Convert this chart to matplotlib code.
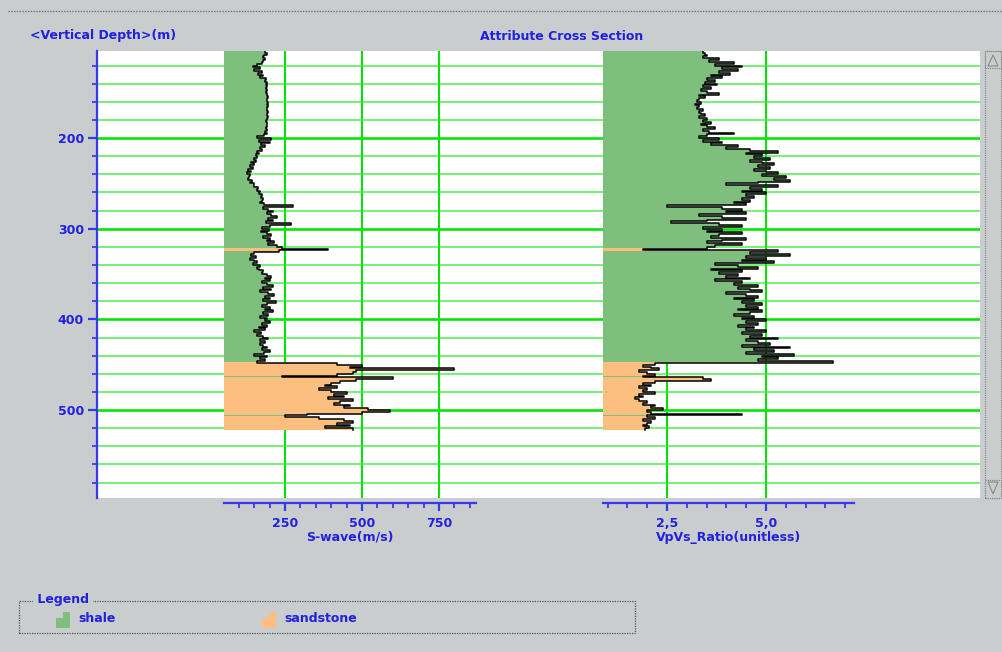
import numpy as np
import matplotlib
matplotlib.use('Agg')
import matplotlib.pyplot as plt
from matplotlib.patches import Rectangle, Polygon
from matplotlib.lines import Line2D

W, H = 1002, 652

# depth samples (top of each 2 m sample), metres
STEP = 2
depth = np.arange(104, 522, STEP)

# S-wave velocity (m/s), one value per sample, 10 per row (20 m)
swave = [185, 190, 182, 178, 186, 180, 175, 160, 145, 170,
         150, 175, 162, 180, 170, 188, 185, 190, 187, 191,
         189, 192, 188, 193, 190, 194, 191, 193, 195, 192,
         194, 191, 193, 196, 192, 190, 194, 191, 189, 193,
         190, 192, 188, 191, 186, 190, 182, 160, 205, 165,
         200, 172, 185, 168, 175, 160, 165, 155, 160, 148,
         155, 140, 150, 135, 145, 130, 140, 128, 138, 133,
         130, 142, 138, 150, 148, 162, 158, 170, 165, 175,
         172, 180, 176, 170, 182, 275, 180, 195, 210, 190,
         205, 225, 195, 210, 188, 270, 200, 175, 198, 172,
         190, 205, 180, 200, 192, 215, 195, 225, 240, 390,
         230, 150, 140, 155, 135, 148, 160, 145, 170, 158,
         165, 180, 175, 192, 205, 185, 200, 175, 190, 210,
         180, 205, 170, 195, 215, 185, 200, 178, 220, 190,
         175, 200, 185, 210, 180, 195, 170, 190, 185, 200,
         175, 190, 165, 185, 150, 172, 160, 180, 195, 168,
         185, 170, 180, 190, 175, 200, 182, 150, 190, 170,
         185, 160, 420, 500, 460, 800, 480, 470, 420, 240,
         600, 480, 430, 400, 380, 420, 360, 400, 450, 410,
         440, 390, 470, 430, 410, 460, 440, 520, 590, 500,
         320, 250, 360, 440, 470, 420, 460, 380, 470]

# Vp/Vs ratio, one value per sample
vpvs = [3.4, 3.45, 3.5, 3.4, 3.8, 3.55, 4.2, 3.7, 4.4, 3.9,
        4.3, 3.8, 4.1, 3.6, 3.9, 3.5, 3.7, 3.45, 3.75, 3.4,
        3.6, 3.35, 3.5, 3.8, 3.3, 3.45, 3.3, 3.25, 3.35, 3.2,
        3.3, 3.25, 3.4, 3.3, 3.35, 3.45, 3.3, 3.5, 3.4, 3.6,
        3.35, 3.5, 3.7, 3.4, 3.55, 4.2, 3.5, 3.3, 3.8, 3.4,
        3.9, 3.6, 4.3, 4.0, 4.6, 5.3, 4.5, 4.9, 4.7, 5.1,
        4.6, 4.9, 5.2, 4.8, 5.1, 4.7, 5.0, 5.3, 4.9, 5.5,
        5.2, 5.6, 4.8, 4.0, 5.3, 4.6, 4.9, 4.4, 5.0, 4.5,
        4.7, 4.4, 4.6, 4.2, 4.5, 2.5, 3.9, 4.4, 4.0, 4.5,
        3.3, 3.9, 4.5, 3.5, 2.6, 3.8, 4.4, 3.4, 3.9, 3.5,
        4.4, 3.8, 3.6, 4.5, 3.9, 3.5, 4.4, 3.7, 3.5, 1.9,
        5.3, 4.6, 5.6, 4.5, 5.0, 4.4, 5.2, 3.7, 4.3, 4.8,
        3.6, 4.4, 3.8, 4.3, 4.0, 4.6, 3.7, 4.4, 4.2, 4.8,
        4.3, 4.6, 4.9, 4.0, 4.5, 4.8, 4.2, 4.7, 4.4, 4.9,
        4.5, 4.8, 4.3, 4.9, 4.6, 4.2, 4.7, 4.4, 5.0, 4.5,
        4.8, 4.3, 4.7, 4.5, 5.0, 4.4, 4.9, 4.6, 5.3, 4.5,
        4.8, 5.1, 4.4, 5.6, 4.7, 5.2, 4.5, 5.7, 4.9, 5.3,
        4.8, 6.7, 2.2, 1.9, 2.1, 2.3, 1.8, 2.0, 2.2, 1.9,
        3.4, 3.6, 2.2, 1.9, 2.1, 1.8, 2.0, 1.9, 2.2, 1.8,
        1.9, 1.7, 1.8, 2.0, 1.9, 2.2, 2.1, 2.4, 2.0, 2.1,
        4.4, 2.0, 2.2, 1.9, 2.1, 2.0, 1.9, 2.05, 1.95]

# lithology intervals
lith_top = [104, 321, 325, 447, 462, 464, 505, 507]
lith_base = [321, 325, 447, 462, 464, 505, 507, 522]
lith_name = ['shale', 'sandstone', 'shale', 'sandstone',
             'shale', 'sandstone', 'shale', 'sandstone']
lith_colors = {'shale': '#7ebf7e', 'sandstone': '#fdbf7f'}

grid_depths = np.arange(120, 597, 20)
depth_ticks = [200, 300, 400, 500]

BG = '#c9cdcd'
TXT = '#2020e0'
AX = '#3838ee'
G_MIN = '#5af05a'
G_MAJ = '#00e600'
PT = 0.72  # points per pixel at 100 dpi

plt.rcParams['font.family'] = 'DejaVu Sans'
plt.rcParams['font.weight'] = 'bold'
plt.rcParams['font.size'] = 9


def fig_box(x0, y0, x1, y1):
    return [x0 / W, 1 - y1 / H, (x1 - x0) / W, (y1 - y0) / H]


fig = plt.figure(figsize=(W / 100, H / 100), dpi=100, facecolor=BG)

# main depth panel
ax0 = fig.add_axes(fig_box(97, 51, 980, 498))
ax0.set_facecolor('white')
ax0.set_ylim(597, 104)
ax0.set_xlim(0, 1)
ax0.set_xticks([])
for s in ['top', 'right', 'bottom']:
    ax0.spines[s].set_visible(False)
ax0.spines['left'].set_color(AX)
ax0.spines['left'].set_linewidth(1.6)
ax0.set_yticks(depth_ticks)
ax0.set_yticks(grid_depths, minor=True)
ax0.tick_params(axis='y', which='major', length=9 * PT, width=1.6, color=AX,
                labelcolor=TXT, labelsize=9, pad=3)
ax0.tick_params(axis='y', which='minor', length=5 * PT, width=1.3, color=AX)
for d in grid_depths:
    if d % 100 == 0:
        ax0.axhline(d, color=G_MAJ, lw=2.6 * PT, zorder=1)
    else:
        ax0.axhline(d, color=G_MIN, lw=1.6 * PT, zorder=1)


def lith_segments(values, xmin, name):
    ys, hs, ws = [], [], []
    for d, v in zip(depth, values):
        for t, b, n in zip(lith_top, lith_base, lith_name):
            if n != name:
                continue
            lo, hi = max(d, t), min(d + STEP, b)
            if hi > lo:
                ys.append(lo)
                hs.append(hi - lo)
                ws.append(v - xmin)
    return ys, hs, ws


def draw_track(box, xlim, values, major, labels, minor, xlabel):
    ax = fig.add_axes(box)
    ax.set_facecolor('none')
    ax.set_xlim(*xlim)
    ax.set_ylim(597, 104)
    ax.set_yticks([])
    for s in ['top', 'left', 'right']:
        ax.spines[s].set_visible(False)
    ax.spines['bottom'].set_position(('outward', 5 * PT))
    ax.spines['bottom'].set_color(AX)
    ax.spines['bottom'].set_linewidth(1.6)
    ax.set_xticks(major, labels)
    ax.set_xticks(minor, minor=True)
    ax.tick_params(axis='x', which='major', length=8 * PT, width=1.6, color=AX,
                   labelcolor=TXT, labelsize=9, pad=4)
    ax.tick_params(axis='x', which='minor', length=5 * PT, width=1.3, color=AX)
    ax.set_xlabel(xlabel, color=TXT, fontsize=9, fontweight='bold', labelpad=1)
    for m in major:
        ax.axvline(m, color=G_MAJ, lw=2 * PT, zorder=1)
    xmin = xlim[0]
    for name in ['shale', 'sandstone']:
        ys, hs, ws = lith_segments(values, xmin, name)
        ax.barh(ys, ws, height=hs, left=xmin, align='edge',
                color=lith_colors[name], linewidth=0, zorder=2)
    xs = np.repeat(values, 2)
    ys = np.column_stack([depth, depth + STEP]).ravel()
    ax.plot(xs, np.minimum(ys, 522), color='black', lw=1.1, zorder=3)
    return ax


draw_track(fig_box(224, 51, 476, 498), (52, 870), swave,
           [250, 500, 750], ['250', '500', '750'],
           np.arange(100, 851, 50), 'S-wave(m/s)')
draw_track(fig_box(603, 51, 854, 498), (0.884, 7.22), vpvs,
           [2.5, 5.0], ['2,5', '5,0'],
           np.arange(1.0, 7.01, 0.5), 'VpVs_Ratio(unitless)')

# header texts
fig.text(30 / W, 1 - 36 / H, '<Vertical Depth>(m)', color=TXT,
         ha='left', va='center', fontsize=9, fontweight='bold')
fig.text(562 / W, 1 - 36 / H, 'Attribute Cross Section', color=TXT,
         ha='center', va='center', fontsize=9, fontweight='bold')

# top separator
fig.add_artist(Line2D([8 / W, 1], [1 - 11 / H, 1 - 11 / H], color='#707070',
                      lw=1, ls=(0, (1, 1)), transform=fig.transFigure))

# scrollbar
tf = fig.transFigure
fig.add_artist(Rectangle((985 / W, 1 - 498 / H), 16 / W, 447 / H, transform=tf,
                         facecolor=BG, edgecolor='#808080', lw=0.8, ls=(0, (1, 1))))
for y0, y1 in [(51, 68), (480, 498)]:
    fig.add_artist(Rectangle((985 / W, 1 - y1 / H), 16 / W, (y1 - y0) / H,
                             transform=tf, facecolor=BG, edgecolor='#808080',
                             lw=0.8, ls=(0, (1, 1))))
fig.add_artist(Polygon([(988 / W, 1 - 66 / H), (998 / W, 1 - 66 / H),
                        (993 / W, 1 - 55 / H)], closed=True, transform=tf,
                       facecolor='none', edgecolor='#8a8a8a', lw=0.8))
fig.add_artist(Polygon([(988 / W, 1 - 482 / H), (998 / W, 1 - 482 / H),
                        (993 / W, 1 - 494 / H)], closed=True, transform=tf,
                       facecolor='none', edgecolor='#8a8a8a', lw=0.8))

# legend box
fig.add_artist(Rectangle((19 / W, 1 - 633 / H), 616 / W, 32 / H, transform=tf,
                         facecolor='none', edgecolor='#505050', lw=0.9,
                         ls=(0, (1, 1))))
fig.text(33 / W, 1 - 600 / H, ' Legend ', color=TXT, ha='left', va='center',
         fontsize=9, fontweight='bold',
         bbox=dict(facecolor=BG, edgecolor='none', pad=0))
for x0, name in [(56, 'shale'), (262, 'sandstone')]:
    pts = [(x0, 628), (x0, 618), (x0 + 7, 618), (x0 + 7, 612),
           (x0 + 14, 612), (x0 + 14, 628)]
    fig.add_artist(Polygon([(x / W, 1 - y / H) for x, y in pts], closed=True,
                           transform=tf, facecolor=lith_colors[name],
                           edgecolor='none'))
    fig.text((x0 + 22) / W, 1 - 619 / H, name, color=TXT, ha='left',
             va='center', fontsize=9, fontweight='bold')

fig.savefig('out.png', dpi=100, facecolor=BG)
